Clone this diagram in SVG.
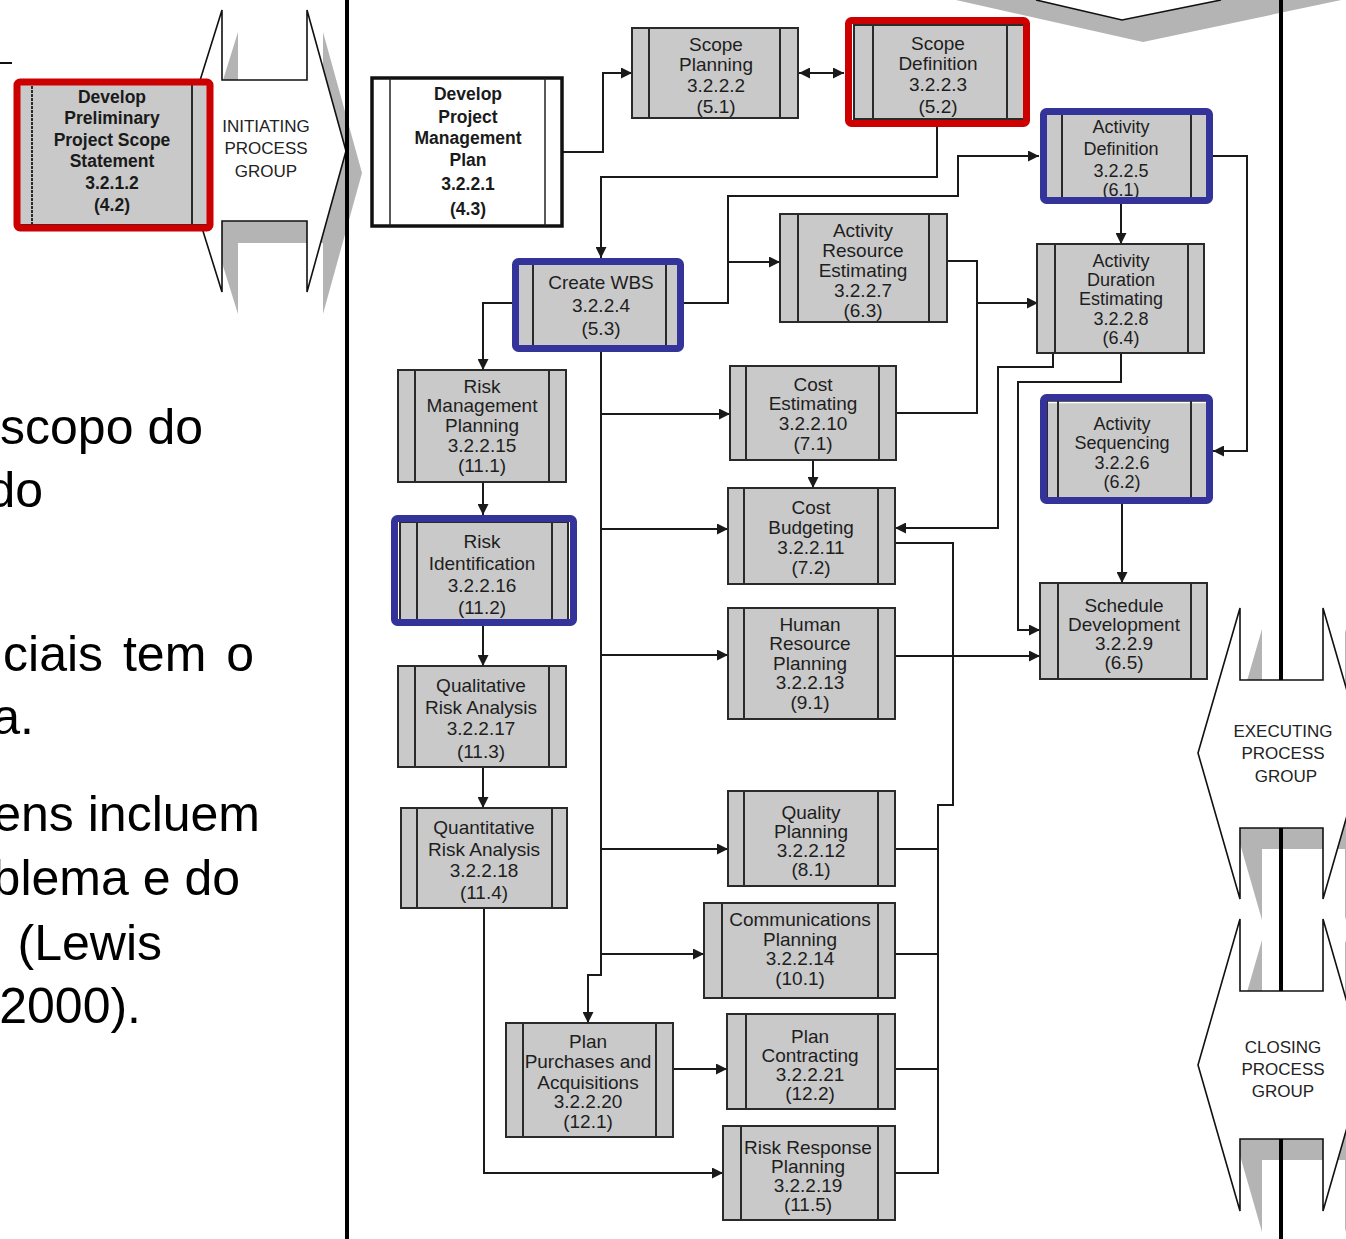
<svg xmlns="http://www.w3.org/2000/svg" width="1346" height="1239" viewBox="0 0 1346 1239">
  <style>
    .box{fill:#c9c9c9;stroke:#2a2a2a;stroke-width:2}
    .div{stroke:#2a2a2a;stroke-width:2}
    .lbl{font-family:"Liberation Sans",Arial,sans-serif;font-size:19px;fill:#1e1e1e;text-anchor:middle}
    .tight{font-size:18px}
    .bold{font-weight:bold;font-size:17.5px;fill:#1a1a1a}
    .hl-red{fill:none;stroke:#cc0000;stroke-width:7}
    .hl-blue{fill:none;stroke:#333399;stroke-width:7}
    .wire{fill:none;stroke:#1a1a1a;stroke-width:2}
    .arr{marker-end:url(#ah)}
    .pg{fill:#fff;stroke:#111;stroke-width:1.6}
    .pg-shadow{fill:#b4b4b4}
    .pg-txt{font-family:"Liberation Sans",Arial,sans-serif;font-size:17px;fill:#222;text-anchor:middle}
    .body{font-family:"Liberation Sans",Arial,sans-serif;font-size:50px;fill:#000;text-anchor:end}
    .rule{stroke:#000;stroke-width:4}
  </style>
  <defs>
    <marker id="ah" viewBox="0 0 10 10" refX="10" refY="5" markerWidth="11" markerHeight="11" markerUnits="userSpaceOnUse" orient="auto-start-reverse">
      <path d="M0,0 L10,5 L0,10 z" fill="#1a1a1a"/>
    </marker>
  </defs>

  <rect width="1346" height="1239" fill="#fff"/>

  <!-- paragraph text cut by the left edge -->
  <g id="body-text">
    <text class="body" x="203" y="444">scopo do</text>
    <text class="body" x="43" y="507">do</text>
    <text class="body" x="254" y="671" word-spacing="6">ciais tem o</text>
    <text class="body" x="34" y="734">a.</text>
    <text class="body" x="260" y="831">ens incluem</text>
    <text class="body" x="240" y="895">blema e do</text>
    <text class="body" x="162" y="960">(Lewis</text>
    <text class="body" x="141" y="1023">2000).</text>
    <line x1="0" y1="63" x2="12" y2="63" stroke="#111" stroke-width="2"/>
  </g>

  <!-- process group arrows: drop shadows first -->
  <g id="process-shadows">
    <path class="pg-shadow" transform="translate(16,22)" d="M222,10 L222,80 L307,80 L307,10 L346,151 L307,292 L307,221 L222,221 L222,292 L178,151 Z"/>
    <path class="pg-shadow" d="M956,-10 L956,0 L1143,42 L1346,-1 L1346,-10 Z"/>
    <path class="pg-shadow" transform="translate(22,21)" d="M1240,608 L1240,680 L1323,680 L1323,608 L1365,753 L1323,899 L1323,828 L1240,828 L1240,899 L1198,753 Z"/>
    <path class="pg-shadow" transform="translate(22,21)" d="M1240,919 L1240,991 L1323,991 L1323,919 L1365,1065 L1323,1211 L1323,1139 L1240,1139 L1240,1211 L1198,1065 Z"/>
  </g>

  <!-- right swimlane rule runs behind the executing / closing arrows -->
  <line class="rule" x1="1281" y1="0" x2="1281" y2="1239"/>

  <g id="process-groups">
    <g id="pg-initiating">
      <path class="pg" d="M222,10 L222,80 L307,80 L307,10 L346,151 L307,292 L307,221 L222,221 L222,292 L178,151 Z"/>
      <text class="pg-txt"><tspan x="266" y="132">INITIATING</tspan><tspan x="266" y="154">PROCESS</tspan><tspan x="266" y="177">GROUP</tspan></text>
    </g>
    <g id="pg-planning">
      <path d="M1036,-10 L1036,0 L1122,20 L1221,0 L1221,-10 Z" fill="#fff"/>
      <path d="M1036,0 L1122,20 L1221,0" fill="none" stroke="#111" stroke-width="1.6"/>
    </g>
    <g id="pg-executing">
      <path class="pg" d="M1240,608 L1240,680 L1323,680 L1323,608 L1365,753 L1323,899 L1323,828 L1240,828 L1240,899 L1198,753 Z"/>
      <line class="rule" x1="1281" y1="608" x2="1281" y2="680"/>
      <line class="rule" x1="1281" y1="828" x2="1281" y2="899"/>
      <text class="pg-txt"><tspan x="1283" y="737">EXECUTING</tspan><tspan x="1283" y="759">PROCESS</tspan><tspan x="1286" y="782">GROUP</tspan></text>
    </g>
    <g id="pg-closing">
      <path class="pg" d="M1240,919 L1240,991 L1323,991 L1323,919 L1365,1065 L1323,1211 L1323,1139 L1240,1139 L1240,1211 L1198,1065 Z"/>
      <line class="rule" x1="1281" y1="919" x2="1281" y2="991"/>
      <line class="rule" x1="1281" y1="1139" x2="1281" y2="1211"/>
      <text class="pg-txt"><tspan x="1283" y="1053">CLOSING</tspan><tspan x="1283" y="1075">PROCESS</tspan><tspan x="1283" y="1097">GROUP</tspan></text>
    </g>
  </g>

  <!-- left swimlane rule crosses the initiating arrow tip -->
  <line class="rule" x1="347" y1="0" x2="347" y2="1239"/>

  <!-- connectors -->
  <g id="connectors">
    <path class="wire arr" d="M562,152 H603 V73 H632"/>
    <path class="wire arr" d="M799,73 H844" marker-start="url(#ah)"/>
    <path class="wire arr" d="M937,127 V177 H601 V258"/>
    <path class="wire arr" d="M684,303 H728 V196 H958 V156 H1039"/>
    <path class="wire arr" d="M728,262 H780"/>
    <path class="wire" d="M947,261 H977 V413 H896"/>
    <path class="wire arr" d="M977,303 H1038"/>
    <path class="wire arr" d="M1121,204 V244"/>
    <path class="wire arr" d="M1213,156 H1247 V451 H1213"/>
    <path class="wire arr" d="M1053,353 V367 H998 V528 H895"/>
    <path class="wire arr" d="M1121,353 V382 H1018 V630 H1040"/>
    <path class="wire arr" d="M1122,504 V583"/>
    <path class="wire arr" d="M895,656 H1040"/>
    <path class="wire arr" d="M813,460 V488"/>
    <path class="wire" d="M895,543 H953 V805 H938 V1173 H895"/>
    <path class="wire" d="M895,849 H938 M895,954 H938 M895,1069 H938"/>
    <path class="wire arr" d="M601,352 V975 H588 V1023"/>
    <path class="wire arr" d="M601,414 H730"/>
    <path class="wire arr" d="M601,529 H728"/>
    <path class="wire arr" d="M601,655 H728"/>
    <path class="wire arr" d="M601,849 H728"/>
    <path class="wire arr" d="M601,954 H704"/>
    <path class="wire arr" d="M512,303 H483 V370"/>
    <path class="wire arr" d="M483,482 V515"/>
    <path class="wire arr" d="M483,626 V666"/>
    <path class="wire arr" d="M483,767 V808"/>
    <path class="wire arr" d="M484,908 V1173 H723"/>
    <path class="wire arr" d="M673,1069 H727"/>
  </g>

  <!-- process nodes -->
  <g id="n-prelim-scope">
    <rect class="box" x="18" y="82" width="192" height="143"/>
    <line class="div" x1="32" y1="82" x2="32" y2="225" stroke-dasharray="3 1"/>
    <line class="div" x1="192" y1="82" x2="192" y2="225"/>
    <text class="lbl bold"><tspan x="112" y="103">Develop</tspan><tspan x="112" y="124">Preliminary</tspan><tspan x="112" y="146">Project Scope</tspan><tspan x="112" y="167">Statement</tspan><tspan x="112" y="189">3.2.1.2</tspan><tspan x="112" y="211">(4.2)</tspan></text>
    <rect class="hl-red" x="17" y="82" width="193" height="146" rx="3" stroke-width="6"/>
  </g>

  <g id="n-pm-plan">
    <rect x="372" y="78" width="190" height="148" fill="#fff" stroke="#111" stroke-width="3.5"/>
    <line x1="390" y1="78" x2="390" y2="226" stroke="#222" stroke-width="1.5"/>
    <line x1="545" y1="78" x2="545" y2="226" stroke="#222" stroke-width="1.5"/>
    <text class="lbl bold" font-size="18"><tspan x="468" y="100">Develop</tspan><tspan x="468" y="123">Project</tspan><tspan x="468" y="144">Management</tspan><tspan x="468" y="166">Plan</tspan><tspan x="468" y="190">3.2.2.1</tspan><tspan x="468" y="215">(4.3)</tspan></text>
  </g>

  <g id="n-scope-planning">
    <rect class="box" x="632" y="28" width="166" height="90"/>
    <line class="div" x1="649" y1="28" x2="649" y2="118"/>
    <line class="div" x1="780" y1="28" x2="780" y2="118"/>
    <text class="lbl"><tspan x="716" y="51">Scope</tspan><tspan x="716" y="71">Planning</tspan><tspan x="716" y="92">3.2.2.2</tspan><tspan x="716" y="113">(5.1)</tspan></text>
  </g>

  <g id="n-scope-definition">
    <rect class="box" x="854" y="25" width="171" height="94"/>
    <line class="div" x1="873" y1="25" x2="873" y2="119"/>
    <line class="div" x1="1007" y1="25" x2="1007" y2="119"/>
    <text class="lbl"><tspan x="938" y="50">Scope</tspan><tspan x="938" y="70">Definition</tspan><tspan x="938" y="91">3.2.2.3</tspan><tspan x="938" y="113">(5.2)</tspan></text>
    <rect class="hl-red" x="848.5" y="20.5" width="178" height="103" rx="3"/>
  </g>

  <g id="n-activity-definition">
    <rect class="box" x="1045" y="112" width="163" height="90"/>
    <line class="div" x1="1062" y1="112" x2="1062" y2="202"/>
    <line class="div" x1="1191" y1="112" x2="1191" y2="202"/>
    <text class="lbl tight"><tspan x="1121" y="133">Activity</tspan><tspan x="1121" y="155">Definition</tspan><tspan x="1121" y="177">3.2.2.5</tspan><tspan x="1121" y="196">(6.1)</tspan></text>
    <rect class="hl-blue" x="1043.5" y="111.5" width="166" height="89" rx="3"/>
  </g>

  <g id="n-activity-resource">
    <rect class="box" x="780" y="214" width="167" height="108"/>
    <line class="div" x1="798" y1="214" x2="798" y2="322"/>
    <line class="div" x1="929" y1="214" x2="929" y2="322"/>
    <text class="lbl"><tspan x="863" y="237">Activity</tspan><tspan x="863" y="257">Resource</tspan><tspan x="863" y="277">Estimating</tspan><tspan x="863" y="297">3.2.2.7</tspan><tspan x="863" y="317">(6.3)</tspan></text>
  </g>

  <g id="n-create-wbs">
    <rect class="box" x="517" y="263" width="162" height="85"/>
    <line class="div" x1="533" y1="263" x2="533" y2="348"/>
    <line class="div" x1="666" y1="263" x2="666" y2="348"/>
    <text class="lbl"><tspan x="601" y="289">Create WBS</tspan><tspan x="601" y="312">3.2.2.4</tspan><tspan x="601" y="335">(5.3)</tspan></text>
    <rect class="hl-blue" x="515.5" y="261.5" width="165" height="87" rx="3"/>
  </g>

  <g id="n-activity-duration">
    <rect class="box" x="1037" y="244" width="167" height="109"/>
    <line class="div" x1="1055" y1="244" x2="1055" y2="353"/>
    <line class="div" x1="1188" y1="244" x2="1188" y2="353"/>
    <text class="lbl tight"><tspan x="1121" y="267">Activity</tspan><tspan x="1121" y="286">Duration</tspan><tspan x="1121" y="305">Estimating</tspan><tspan x="1121" y="325">3.2.2.8</tspan><tspan x="1121" y="344">(6.4)</tspan></text>
  </g>

  <g id="n-risk-mgmt-planning">
    <rect class="box" x="398" y="370" width="168" height="112"/>
    <line class="div" x1="415" y1="370" x2="415" y2="482"/>
    <line class="div" x1="549" y1="370" x2="549" y2="482"/>
    <text class="lbl"><tspan x="482" y="393">Risk</tspan><tspan x="482" y="412">Management</tspan><tspan x="482" y="432">Planning</tspan><tspan x="482" y="452">3.2.2.15</tspan><tspan x="482" y="472">(11.1)</tspan></text>
  </g>

  <g id="n-cost-estimating">
    <rect class="box" x="730" y="366" width="166" height="94"/>
    <line class="div" x1="746" y1="366" x2="746" y2="460"/>
    <line class="div" x1="879" y1="366" x2="879" y2="460"/>
    <text class="lbl"><tspan x="813" y="391">Cost</tspan><tspan x="813" y="410">Estimating</tspan><tspan x="813" y="430">3.2.2.10</tspan><tspan x="813" y="450">(7.1)</tspan></text>
  </g>

  <g id="n-activity-sequencing">
    <rect class="box" x="1047" y="401" width="160" height="97"/>
    <line x1="1048" y1="402.5" x2="1206" y2="402.5" stroke="#fff" stroke-width="1.5"/>
    <line class="div" x1="1058" y1="401" x2="1058" y2="498"/>
    <line class="div" x1="1191" y1="401" x2="1191" y2="498"/>
    <text class="lbl tight"><tspan x="1122" y="430">Activity</tspan><tspan x="1122" y="449">Sequencing</tspan><tspan x="1122" y="469">3.2.2.6</tspan><tspan x="1122" y="488">(6.2)</tspan></text>
    <rect class="hl-blue" x="1043.5" y="397.5" width="166" height="103" rx="3"/>
  </g>

  <g id="n-risk-identification">
    <rect class="box" x="400" y="522" width="168" height="98"/>
    <line class="div" x1="417" y1="522" x2="417" y2="620"/>
    <line class="div" x1="552" y1="522" x2="552" y2="620"/>
    <text class="lbl"><tspan x="482" y="548">Risk</tspan><tspan x="482" y="570">Identification</tspan><tspan x="482" y="592">3.2.2.16</tspan><tspan x="482" y="614">(11.2)</tspan></text>
    <rect class="hl-blue" x="394.5" y="518.5" width="179" height="104" rx="3"/>
  </g>

  <g id="n-cost-budgeting">
    <rect class="box" x="728" y="488" width="167" height="96"/>
    <line class="div" x1="744" y1="488" x2="744" y2="584"/>
    <line class="div" x1="878" y1="488" x2="878" y2="584"/>
    <text class="lbl"><tspan x="811" y="514">Cost</tspan><tspan x="811" y="534">Budgeting</tspan><tspan x="811" y="554">3.2.2.11</tspan><tspan x="811" y="574">(7.2)</tspan></text>
  </g>

  <g id="n-schedule-development">
    <rect class="box" x="1040" y="583" width="167" height="96"/>
    <line class="div" x1="1058" y1="583" x2="1058" y2="679"/>
    <line class="div" x1="1191" y1="583" x2="1191" y2="679"/>
    <text class="lbl"><tspan x="1124" y="612">Schedule</tspan><tspan x="1124" y="631">Development</tspan><tspan x="1124" y="650">3.2.2.9</tspan><tspan x="1124" y="669">(6.5)</tspan></text>
  </g>

  <g id="n-hr-planning">
    <rect class="box" x="728" y="608" width="167" height="111"/>
    <line class="div" x1="744" y1="608" x2="744" y2="719"/>
    <line class="div" x1="878" y1="608" x2="878" y2="719"/>
    <text class="lbl"><tspan x="810" y="631">Human</tspan><tspan x="810" y="650">Resource</tspan><tspan x="810" y="670">Planning</tspan><tspan x="810" y="689">3.2.2.13</tspan><tspan x="810" y="709">(9.1)</tspan></text>
  </g>

  <g id="n-qualitative-risk">
    <rect class="box" x="398" y="666" width="168" height="101"/>
    <line class="div" x1="415" y1="666" x2="415" y2="767"/>
    <line class="div" x1="549" y1="666" x2="549" y2="767"/>
    <text class="lbl"><tspan x="481" y="692">Qualitative</tspan><tspan x="481" y="714">Risk Analysis</tspan><tspan x="481" y="735">3.2.2.17</tspan><tspan x="481" y="758">(11.3)</tspan></text>
  </g>

  <g id="n-quality-planning">
    <rect class="box" x="728" y="791" width="167" height="95"/>
    <line class="div" x1="744" y1="791" x2="744" y2="886"/>
    <line class="div" x1="878" y1="791" x2="878" y2="886"/>
    <text class="lbl"><tspan x="811" y="819">Quality</tspan><tspan x="811" y="838">Planning</tspan><tspan x="811" y="857">3.2.2.12</tspan><tspan x="811" y="876">(8.1)</tspan></text>
  </g>

  <g id="n-quantitative-risk">
    <rect class="box" x="401" y="808" width="166" height="100"/>
    <line class="div" x1="417" y1="808" x2="417" y2="908"/>
    <line class="div" x1="552" y1="808" x2="552" y2="908"/>
    <text class="lbl"><tspan x="484" y="834">Quantitative</tspan><tspan x="484" y="856">Risk Analysis</tspan><tspan x="484" y="877">3.2.2.18</tspan><tspan x="484" y="899">(11.4)</tspan></text>
  </g>

  <g id="n-communications">
    <rect class="box" x="704" y="903" width="191" height="95"/>
    <line class="div" x1="722" y1="903" x2="722" y2="998"/>
    <line class="div" x1="878" y1="903" x2="878" y2="998"/>
    <text class="lbl"><tspan x="800" y="926">Communications</tspan><tspan x="800" y="946">Planning</tspan><tspan x="800" y="965">3.2.2.14</tspan><tspan x="800" y="985">(10.1)</tspan></text>
  </g>

  <g id="n-plan-purchases">
    <rect class="box" x="506" y="1023" width="167" height="114"/>
    <line class="div" x1="523" y1="1023" x2="523" y2="1137"/>
    <line class="div" x1="656" y1="1023" x2="656" y2="1137"/>
    <text class="lbl"><tspan x="588" y="1048">Plan</tspan><tspan x="588" y="1068">Purchases and</tspan><tspan x="588" y="1089">Acquisitions</tspan><tspan x="588" y="1108">3.2.2.20</tspan><tspan x="588" y="1128">(12.1)</tspan></text>
  </g>

  <g id="n-plan-contracting">
    <rect class="box" x="727" y="1014" width="168" height="95"/>
    <line class="div" x1="746" y1="1014" x2="746" y2="1109"/>
    <line class="div" x1="878" y1="1014" x2="878" y2="1109"/>
    <text class="lbl"><tspan x="810" y="1043">Plan</tspan><tspan x="810" y="1062">Contracting</tspan><tspan x="810" y="1081">3.2.2.21</tspan><tspan x="810" y="1100">(12.2)</tspan></text>
  </g>

  <g id="n-risk-response">
    <rect class="box" x="723" y="1126" width="172" height="94"/>
    <line class="div" x1="741" y1="1126" x2="741" y2="1220"/>
    <line class="div" x1="878" y1="1126" x2="878" y2="1220"/>
    <text class="lbl"><tspan x="808" y="1154">Risk Response</tspan><tspan x="808" y="1173">Planning</tspan><tspan x="808" y="1192">3.2.2.19</tspan><tspan x="808" y="1211">(11.5)</tspan></text>
  </g>
</svg>
